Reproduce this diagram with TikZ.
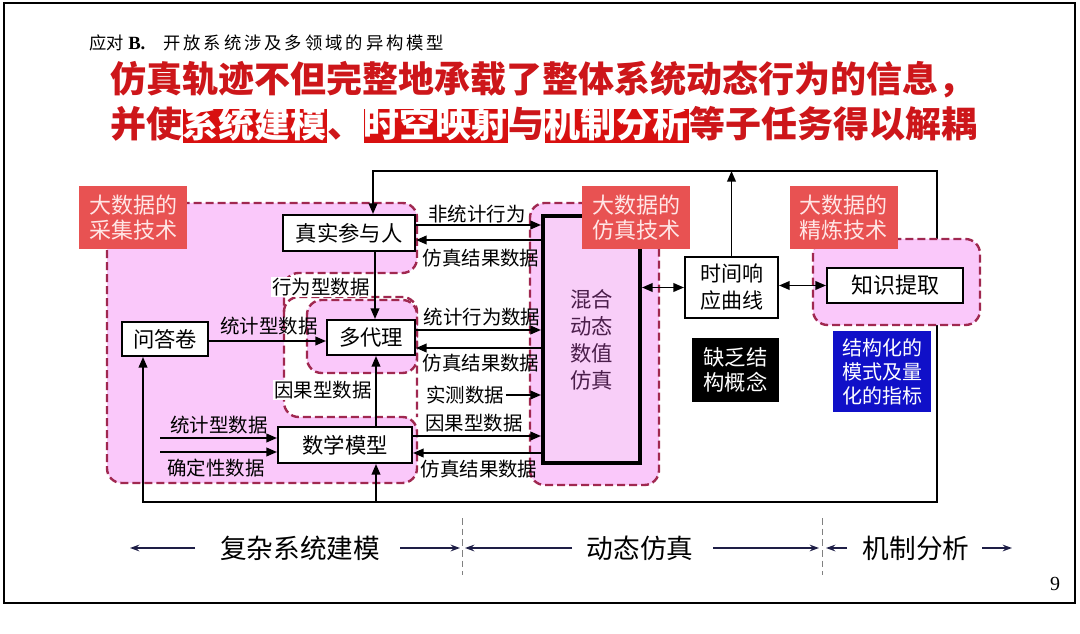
\documentclass[tikz,border=0pt]{standalone}
\usepackage{fontspec}
\setmainfont{Noto Sans CJK SC}
\newfontfamily\tnr{Liberation Serif}
\usetikzlibrary{arrows.meta}
\definecolor{pinkfill}{RGB}{250,200,250}
\definecolor{simfill}{RGB}{248,206,248}
\definecolor{dashcol}{RGB}{160,40,80}
\definecolor{tagred}{RGB}{232,82,82}
\definecolor{tagtext}{RGB}{255,230,230}
\definecolor{titlered}{RGB}{205,22,26}
\definecolor{hlred}{RGB}{216,16,16}
\definecolor{simtext}{RGB}{75,30,75}
\definecolor{bluebox}{RGB}{16,16,200}
\definecolor{axiscol}{RGB}{30,30,70}
\newcommand{\fLbl}{\fontsize{14.6pt}{17pt}\selectfont}
\newcommand{\fBx}{\fontsize{16pt}{20pt}\selectfont}
\newcommand{\fTg}{\fontsize{16.5pt}{18.75pt}\selectfont}
\newcommand{\fSim}{\fontsize{16pt}{20.25pt}\selectfont}
\newcommand{\fTm}{\fontsize{15.75pt}{20.25pt}\selectfont}
\newcommand{\fKn}{\fontsize{16.5pt}{20pt}\selectfont}
\newcommand{\fLk}{\fontsize{16pt}{18.75pt}\selectfont}
\newcommand{\fBl}{\fontsize{15pt}{18pt}\selectfont}
\newcommand{\fAx}{\fontsize{20pt}{24pt}\selectfont}
\newcommand{\fTtl}{\fontsize{27pt}{32pt}\selectfont\bfseries}
\newcommand{\fHd}{\fontsize{13pt}{15pt}\selectfont}
\begin{document}
\begin{tikzpicture}[x=0.75pt,y=-0.75pt,
  plain/.style={line width=1.3pt},
  arr/.style={line width=1.3pt,-{Triangle[length=8pt,width=6.5pt]}},
  darr/.style={line width=1.3pt,{Triangle[length=8pt,width=6.5pt]}-{Triangle[length=8pt,width=6.5pt]}},
  boxn/.style={draw, line width=1.5pt, fill=white, inner sep=0pt, font=\fBx},
  lbl/.style={inner sep=1pt, font=\fLbl},
  tagn/.style={fill=tagred, text=tagtext, inner sep=0pt, minimum width=81pt, minimum height=47.25pt, align=center, font=\fTg},
  region/.style={draw=dashcol, line width=1.8pt, dash pattern=on 6pt off 3pt, rounded corners=11pt},
  axarr/.style={axiscol, line width=1.3pt, -{Stealth[length=7pt,width=5pt]}},
  axlbl/.style={font=\fAx, inner sep=1pt},
  sep/.style={draw=gray, line width=0.7pt, dash pattern=on 5pt off 3pt},
  hl/.style={fill=hlred, text=white, inner xsep=0pt, inner ysep=0pt, text height=21.6pt, text depth=4pt, anchor=base west, font=\fTtl},
  ttl/.style={text=titlered, inner sep=0pt, anchor=base west, font=\fTtl}
]
\useasboundingbox (0,0) rectangle (1080,634);
\fill[white] (0,0) rectangle (1080,634);
\draw[line width=1.6pt] (4,3) rectangle (1075,603);

% header
\node[anchor=base west, inner sep=0, font=\fHd] (hd1) at (89,49.5) {应对};
\node[anchor=base west, inner sep=0] (hd2) at (128,49.5) {\fontsize{14pt}{16pt}\selectfont\tnr\bfseries B.};
\node[anchor=base west, inner sep=0, font=\fHd] (hd3) at (163,49.5) {\addfontfeature{LetterSpace=17}开放系统涉及多领域的异构模型};

% title
\node[ttl] (t1) at (110,92.5) {仿真轨迹不但完整地承载了整体系统动态行为的信息，};
\node[ttl] (t2a) at (110,137.6) {并使};
\node[hl] (h1) at (t2a.base east) {系统建模};
\node[ttl] (t2b) at (h1.base east) {、};
\node[hl] (h2) at (t2b.base east) {时空映射};
\node[ttl] (t2c) at (h2.base east) {与};
\node[hl] (h3) at (t2c.base east) {机制分析};
\node[ttl] (t2d) at (h3.base east) {等子任务得以解耦};

% loop coordinates
\coordinate (rtop) at (937,171);
\coordinate (ltop) at (373,171);
\coordinate (rbot) at (937,502);
\coordinate (lbot) at (143,502);
\coordinate (mbot) at (376,502);
\draw[plain, line cap=rect] (rtop) -- (rbot);

% regions
\filldraw[region, fill=pinkfill] (107,203) -- (417,203) -- (417,273) -- (284,273) -- (284,417) -- (417,417) -- (417,483) -- (107,483) -- cycle;
\draw[region] (284,312) -- (284,297) -- (417,297) -- (417,417);
\filldraw[region, fill=pinkfill] (307,300) rectangle (417,373);
\filldraw[region, fill=pinkfill] (530,203) rectangle (659,485);
\filldraw[region, fill=pinkfill] (813,239) rectangle (980,325);

% nodes
\node[boxn, minimum width=99pt, minimum height=27pt] (real) at (349,233) {真实参与人};
\node[boxn, minimum width=66pt, minimum height=26.25pt] (agent) at (371,337.5) {多代理};
\node[boxn, minimum width=64.5pt, minimum height=25.5pt] (quest) at (165,339) {问答卷};
\node[boxn, minimum width=100.5pt, minimum height=27pt] (math) at (345,445) {数学模型};
\node[draw, line width=3pt, fill=simfill, minimum width=72.75pt, minimum height=185.25pt, align=center, text=simtext, font=\fSim, inner sep=0pt] (sim) at (591.5,339.5) {混合\\动态\\数值\\仿真};
\node[boxn, minimum width=69.75pt, minimum height=45.75pt, align=center, font=\fTm] (time) at (731.5,287.5) {时间响\\应曲线};
\node[boxn, minimum width=102pt, minimum height=26.25pt, font=\fKn] (know) at (895,285.5) {知识提取};
\node[fill=black, text=white, minimum width=65.25pt, minimum height=48pt, align=center, inner sep=0pt, font=\fLk] (lack) at (735.5,370) {缺乏结\\构概念};
\node[fill=bluebox, text=white, minimum width=73.5pt, minimum height=60.75pt, align=center, inner sep=0pt, font=\fBl] (struct) at (882,371.5) {结构化的\\模式及量\\化的指标};

% labels
\node[lbl] (lnon) at (477,214) {非统计行为};
\node[lbl] (lres1) at (481,258) {仿真结果数据};
\node[lbl, fill=white] (lbeh) at (321,287) {行为型数据};
\node[lbl] (lstat1) at (269,326) {统计型数据};
\node[lbl] (lsb) at (482,317) {统计行为数据};
\node[lbl] (lres2) at (481,363) {仿真结果数据};
\node[lbl, fill=white] (lcau1) at (323,390) {因果型数据};
\node[lbl] (lmeas) at (465,395) {实测数据};
\node[lbl] (lcau2) at (474,423) {因果型数据};
\node[lbl] (lres3) at (479,469) {仿真结果数据};
\node[lbl] (lstat2) at (219,425) {统计型数据};
\node[lbl] (ldet) at (216,468) {确定性数据};

% connectors
\draw[arr] (rtop) -- (ltop) -- (real.north -| ltop);
\draw[arr] (rbot) -- (lbot) -- (quest.south -| lbot);
\draw[arr] (mbot) -- (math.south -| mbot);
\draw[arr] (time.north) -- (time.north |- rtop);
\draw[darr] (sim.east |- time.west) -- (time.west);
\draw[darr] (time.east |- know.west) -- (know.west);
\draw[arr] (real.east |- 0,225) -- (sim.west |- 0,225);
\draw[arr] (sim.west |- 0,240) -- (real.east |- 0,240);
\draw[arr] (real.south -| 375,0) -- (agent.north -| 375,0);
\draw[arr] (quest.east |- 0,341) -- (agent.west |- 0,341);
\draw[arr] (agent.east |- 0,330) -- (sim.west |- 0,330);
\draw[arr] (sim.west |- 0,348) -- (agent.east |- 0,348);
\draw[arr] (math.north -| 376,0) -- (agent.south -| 376,0);
\draw[arr] (lmeas.east) -- (sim.west |- lmeas.east);
\draw[arr] (math.east |- 0,436) -- (sim.west |- 0,436);
\draw[arr] (sim.west |- 0,453) -- (math.east |- 0,453);
\coordinate (in1) at (160,438);
\coordinate (in2) at (160,452);
\draw[arr] (in1) -- (math.west |- in1);
\draw[arr] (in2) -- (math.west |- in2);

% tags
\node[tagn] (tag1) at (133,217.5) {大数据的\\采集技术};
\node[tagn] (tag2) at (636,218) {大数据的\\仿真技术};
\node[tagn] (tag3) at (843.5,217.5) {大数据的\\精炼技术};

% bottom axis
\node[axlbl] (ax1) at (300,548) {复杂系统建模};
\node[axlbl] (ax2) at (640,548) {动态仿真};
\node[axlbl] (ax3) at (916,548) {机制分析};
\coordinate (a1s) at (195,548); \coordinate (a1e) at (130,548);
\coordinate (a2s) at (400,548); \coordinate (a2e) at (460,548);
\coordinate (a3s) at (572,548); \coordinate (a3e) at (465,548);
\coordinate (a4s) at (713,548); \coordinate (a4e) at (819,548);
\coordinate (a5s) at (847,548); \coordinate (a5e) at (826,548);
\coordinate (a6s) at (982,548); \coordinate (a6e) at (1012,548);
\draw[axarr] (a1s) -- (a1e);
\draw[axarr] (a2s) -- (a2e);
\draw[axarr] (a3s) -- (a3e);
\draw[axarr] (a4s) -- (a4e);
\draw[axarr] (a5s) -- (a5e);
\draw[axarr] (a6s) -- (a6e);
\coordinate (d1t) at (462,518); \coordinate (d1b) at (462,575);
\coordinate (d2t) at (822,518); \coordinate (d2b) at (822,575);
\draw[sep] (d1t) -- (d1b);
\draw[sep] (d2t) -- (d2b);

\node[font=\fontsize{15pt}{18pt}\selectfont\tnr, inner sep=0pt] (pg) at (1055,584) {9};
\end{tikzpicture}
\end{document}
